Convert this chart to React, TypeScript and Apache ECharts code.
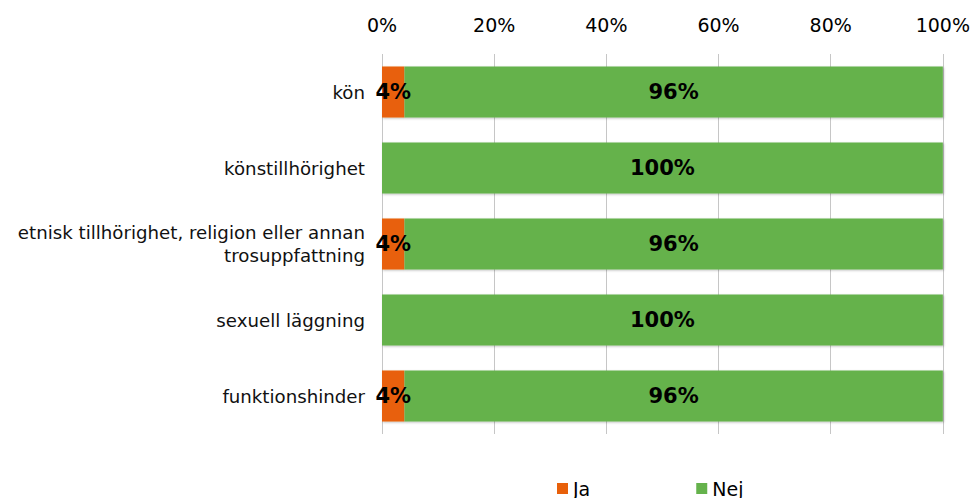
import React, { useEffect, useRef } from "react";
import * as echarts from "echarts";

const categories = [
  "kön",
  "könstillhörighet",
  "etnisk tillhörighet, religion eller annan\ntrosuppfattning",
  "sexuell läggning",
  "funktionshinder",
];
const jaValues = [4, 0, 4, 0, 4];
const nejValues = [96, 100, 96, 100, 96];
const xTicks = [0, 20, 40, 60, 80, 100];

export default function App() {
  const ref = useRef<HTMLDivElement>(null);
  useEffect(() => {
    if (!ref.current) return;
    const chart = echarts.init(ref.current, null, { renderer: "svg" });
    const font = "DejaVu Sans, Verdana, sans-serif";
    const labelStyle = {
      show: true,
      position: "inside",
      fontSize: 21,
      fontWeight: "bold",
      color: "#000",
      fontFamily: font,
      formatter: (p: any) => (p.value > 0 ? p.value + "%" : ""),
    };
    const shadow = {
      shadowColor: "rgba(0,0,0,0.25)",
      shadowBlur: 2,
      shadowOffsetX: 1,
      shadowOffsetY: 1,
    };
    chart.setOption({
      animation: false,
      textStyle: { fontFamily: font },
      grid: { left: 382, right: 30, top: 54, bottom: 64, containLabel: false },
      legend: {
        data: ["Ja", "Nej"],
        left: 557,
        top: 479,
        itemWidth: 11,
        itemHeight: 11,
        itemGap: 106,
        icon: "rect",
        padding: 0,
        textStyle: { fontSize: 19, lineHeight: 18, color: "#000", fontFamily: font },
      },
      xAxis: {
        type: "value",
        position: "top",
        min: xTicks[0],
        max: xTicks[xTicks.length - 1],
        interval: 20,
        axisLine: { show: false },
        axisTick: { show: false },
        axisLabel: {
          formatter: "{value}%",
          fontSize: 19,
          color: "#000",
          margin: 20,
        },
        splitLine: { show: true, lineStyle: { color: "#c6c6c6", width: 1 } },
      },
      yAxis: {
        type: "category",
        inverse: true,
        data: categories,
        axisLine: { show: false },
        axisTick: { show: false },
        axisLabel: {
          fontSize: 18.2,
          color: "#111",
          margin: 17,
          lineHeight: 23,
          align: "right",
        },
      },
      series: [
        {
          name: "Ja",
          type: "bar",
          stack: "total",
          data: jaValues,
          barCategoryGap: "33%",
          itemStyle: { color: "#E8600A", ...shadow },
          label: labelStyle,
        },
        {
          name: "Nej",
          type: "bar",
          stack: "total",
          data: nejValues,
          barCategoryGap: "33%",
          itemStyle: { color: "#65B24C", ...shadow },
          label: labelStyle,
        },
      ],
    });
    return () => chart.dispose();
  }, []);
  return <div ref={ref} style={{ width: 973, height: 498, position: "absolute", left: 0, top: 0 }} />;
}
